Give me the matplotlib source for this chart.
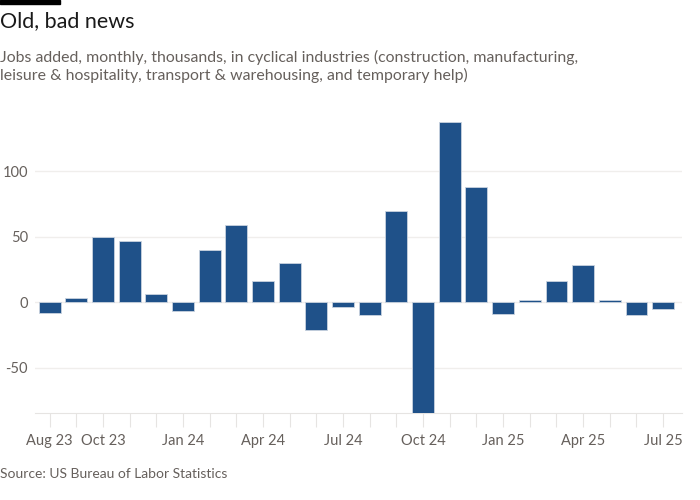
import matplotlib
matplotlib.use("Agg")
import matplotlib.pyplot as plt
import numpy as np

months = ["Aug 23", "Sep 23", "Oct 23", "Nov 23", "Dec 23", "Jan 24", "Feb 24", "Mar 24",
          "Apr 24", "May 24", "Jun 24", "Jul 24", "Aug 24", "Sep 24", "Oct 24", "Nov 24",
          "Dec 24", "Jan 25", "Feb 25", "Mar 25", "Apr 25", "May 25", "Jun 25", "Jul 25"]
jobs = [-8, 3, 50, 47, 6, -7, 40, 59, 16, 30, -21, -4, -10, 70, -85, 138, 88, -9, 2, 16, 28, 2, -10, -5]
labelled = ["Aug 23", "Oct 23", "Jan 24", "Apr 24", "Jul 24", "Oct 24", "Jan 25", "Apr 25", "Jul 25"]
yticks = [-50, 0, 50, 100]

plt.rcParams['font.family'] = ['Lato', 'DejaVu Sans']

fig = plt.figure(figsize=(7, 5), dpi=100)
fig.patch.set_facecolor("white")
ax = fig.add_axes([0.05, 0.174, 0.924, 0.606])

x = np.arange(len(months))
ax.bar(x, jobs, width=0.82, color="#1f5189", edgecolor="#c9d3df", linewidth=0.6, zorder=3)

ax.set_ylim(-84.7, 146.8)
ax.set_xlim(-0.55, len(months) - 0.3)
ax.set_yticks(yticks)
ax.set_yticklabels([str(v) for v in yticks])
ax.grid(axis="y", color="#f0eeec", linewidth=1, zorder=0)
ax.set_xticks(x)
ax.set_xticklabels([m if m in labelled else "" for m in months])
for s in ["top", "right", "left"]:
    ax.spines[s].set_visible(False)
ax.spines["bottom"].set_color("#e6e4e2")
ax.tick_params(axis="x", length=10, color="#e6e4e2", labelsize=10.5, labelcolor="#66605c", pad=5)
ax.tick_params(axis="y", length=0, labelsize=10.5, labelcolor="#66605c", pad=5)

fig.patches.append(plt.Rectangle((0, 0.992), 0.086, 0.008, transform=fig.transFigure,
                                 color="black", zorder=10))
fig.text(0.0, 0.957, "Old, bad news", fontsize=15.5, color="#1a1a1a", va="center", ha="left")
fig.text(0.0, 0.867, "Jobs added, monthly, thousands, in cyclical industries (construction, manufacturing,\n"
                     "leisure & hospitality, transport & warehousing, and temporary help)",
         fontsize=11.4, color="#66605c", va="center", ha="left", linespacing=1.3)
fig.text(0.0, 0.051, "Source: US Bureau of Labor Statistics", fontsize=10, color="#66605c",
         va="center", ha="left")

fig.savefig("out.png", dpi=100, facecolor="white")
